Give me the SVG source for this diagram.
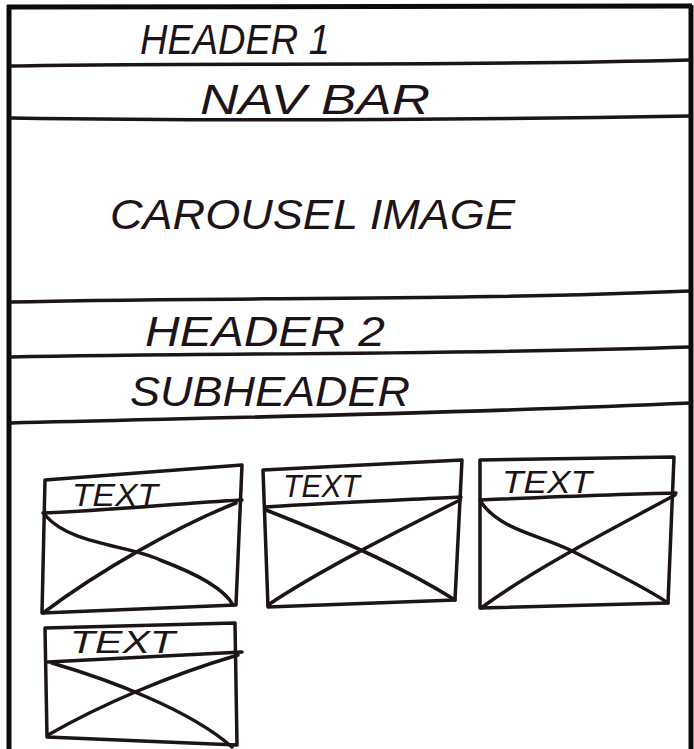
<svg xmlns="http://www.w3.org/2000/svg" width="694" height="749" viewBox="0 0 694 749">
<style>
.ink{fill:none;stroke:#1c1418;stroke-width:3.5;stroke-linecap:round;stroke-linejoin:round}
.frame{fill:none;stroke:#0c0a0b;stroke-width:5}
.big{font-family:"Liberation Sans",Arial,sans-serif;font-style:italic;font-size:43px;fill:#1c1418}
.small{font-family:"Liberation Sans",Arial,sans-serif;font-style:italic;font-size:32px;fill:#1c1418}
</style>
<rect width="694" height="749" fill="#ffffff"/>
<g id="frame">
<path class="frame" d="M7,7 L692,6"/>
<path class="frame" d="M9,5 L9,749"/>
<path class="frame" d="M691,5 L691,749"/>
</g>
<g id="dividers">
<path class="ink" d="M11,66 C200,62 420,67 690,60"/>
<path class="ink" d="M11,118 C200,121 450,120 690,116"/>
<path class="ink" d="M11,302 C200,297 450,301 690,291"/>
<path class="ink" d="M11,357 C200,353 450,355 690,347"/>
<path class="ink" d="M11,423 C200,418 450,414 690,403"/>
</g>
<g id="header1"><text class="big" x="140" y="54" textLength="190" lengthAdjust="spacingAndGlyphs">HEADER 1</text></g>
<g id="navbar"><text class="big" x="200" y="114" textLength="230" lengthAdjust="spacingAndGlyphs">NAV  BAR</text></g>
<g id="carousel"><text class="big" x="110" y="229" textLength="405" lengthAdjust="spacingAndGlyphs">CAROUSEL IMAGE</text></g>
<g id="header2"><text class="big" x="145" y="346" textLength="240" lengthAdjust="spacingAndGlyphs">HEADER 2</text></g>
<g id="subheader"><text class="big" x="130" y="406" textLength="280" lengthAdjust="spacingAndGlyphs">SUBHEADER</text></g>
<g id="card1">
<path class="ink" d="M45,480 L242,465 L236,605 L42,613 Z"/>
<path class="ink" d="M43,513 C120,510 180,503 242,500"/>
<path class="ink" d="M45,515 C70,545 130,545 160,560 C200,575 225,590 233,605"/>
<path class="ink" d="M236,503 C180,525 100,570 43,613"/>
<text class="small" x="72" y="506" textLength="86" lengthAdjust="spacingAndGlyphs">TEXT</text>
</g>
<g id="card2">
<path class="ink" d="M263,470 L462,460 L455,600 L268,607 Z"/>
<path class="ink" d="M265,507 C330,503 400,500 461,497"/>
<path class="ink" d="M266,510 C330,535 400,565 455,600"/>
<path class="ink" d="M460,500 C400,530 320,570 268,605"/>
<text class="small" x="283" y="497" textLength="77" lengthAdjust="spacingAndGlyphs">TEXT</text>
</g>
<g id="card3">
<path class="ink" d="M480,460 L674,457 L668,603 L480,608 Z"/>
<path class="ink" d="M480,500 C550,497 620,494 676,493"/>
<path class="ink" d="M481,502 C500,530 540,535 570,550 C610,570 650,590 668,603"/>
<path class="ink" d="M675,495 C620,525 540,565 481,608"/>
<text class="small" x="502" y="493" textLength="90" lengthAdjust="spacingAndGlyphs">TEXT</text>
</g>
<g id="card4">
<path class="ink" d="M45,628 L235,623 L237,745 L47,737 Z"/>
<path class="ink" d="M48,662 C110,659 180,655 242,652"/>
<path class="ink" d="M52,663 C110,680 190,710 232,747"/>
<path class="ink" d="M238,655 C170,675 100,705 48,735"/>
<text class="small" x="70" y="653" textLength="105" lengthAdjust="spacingAndGlyphs">TEXT</text>
</g>
</svg>
